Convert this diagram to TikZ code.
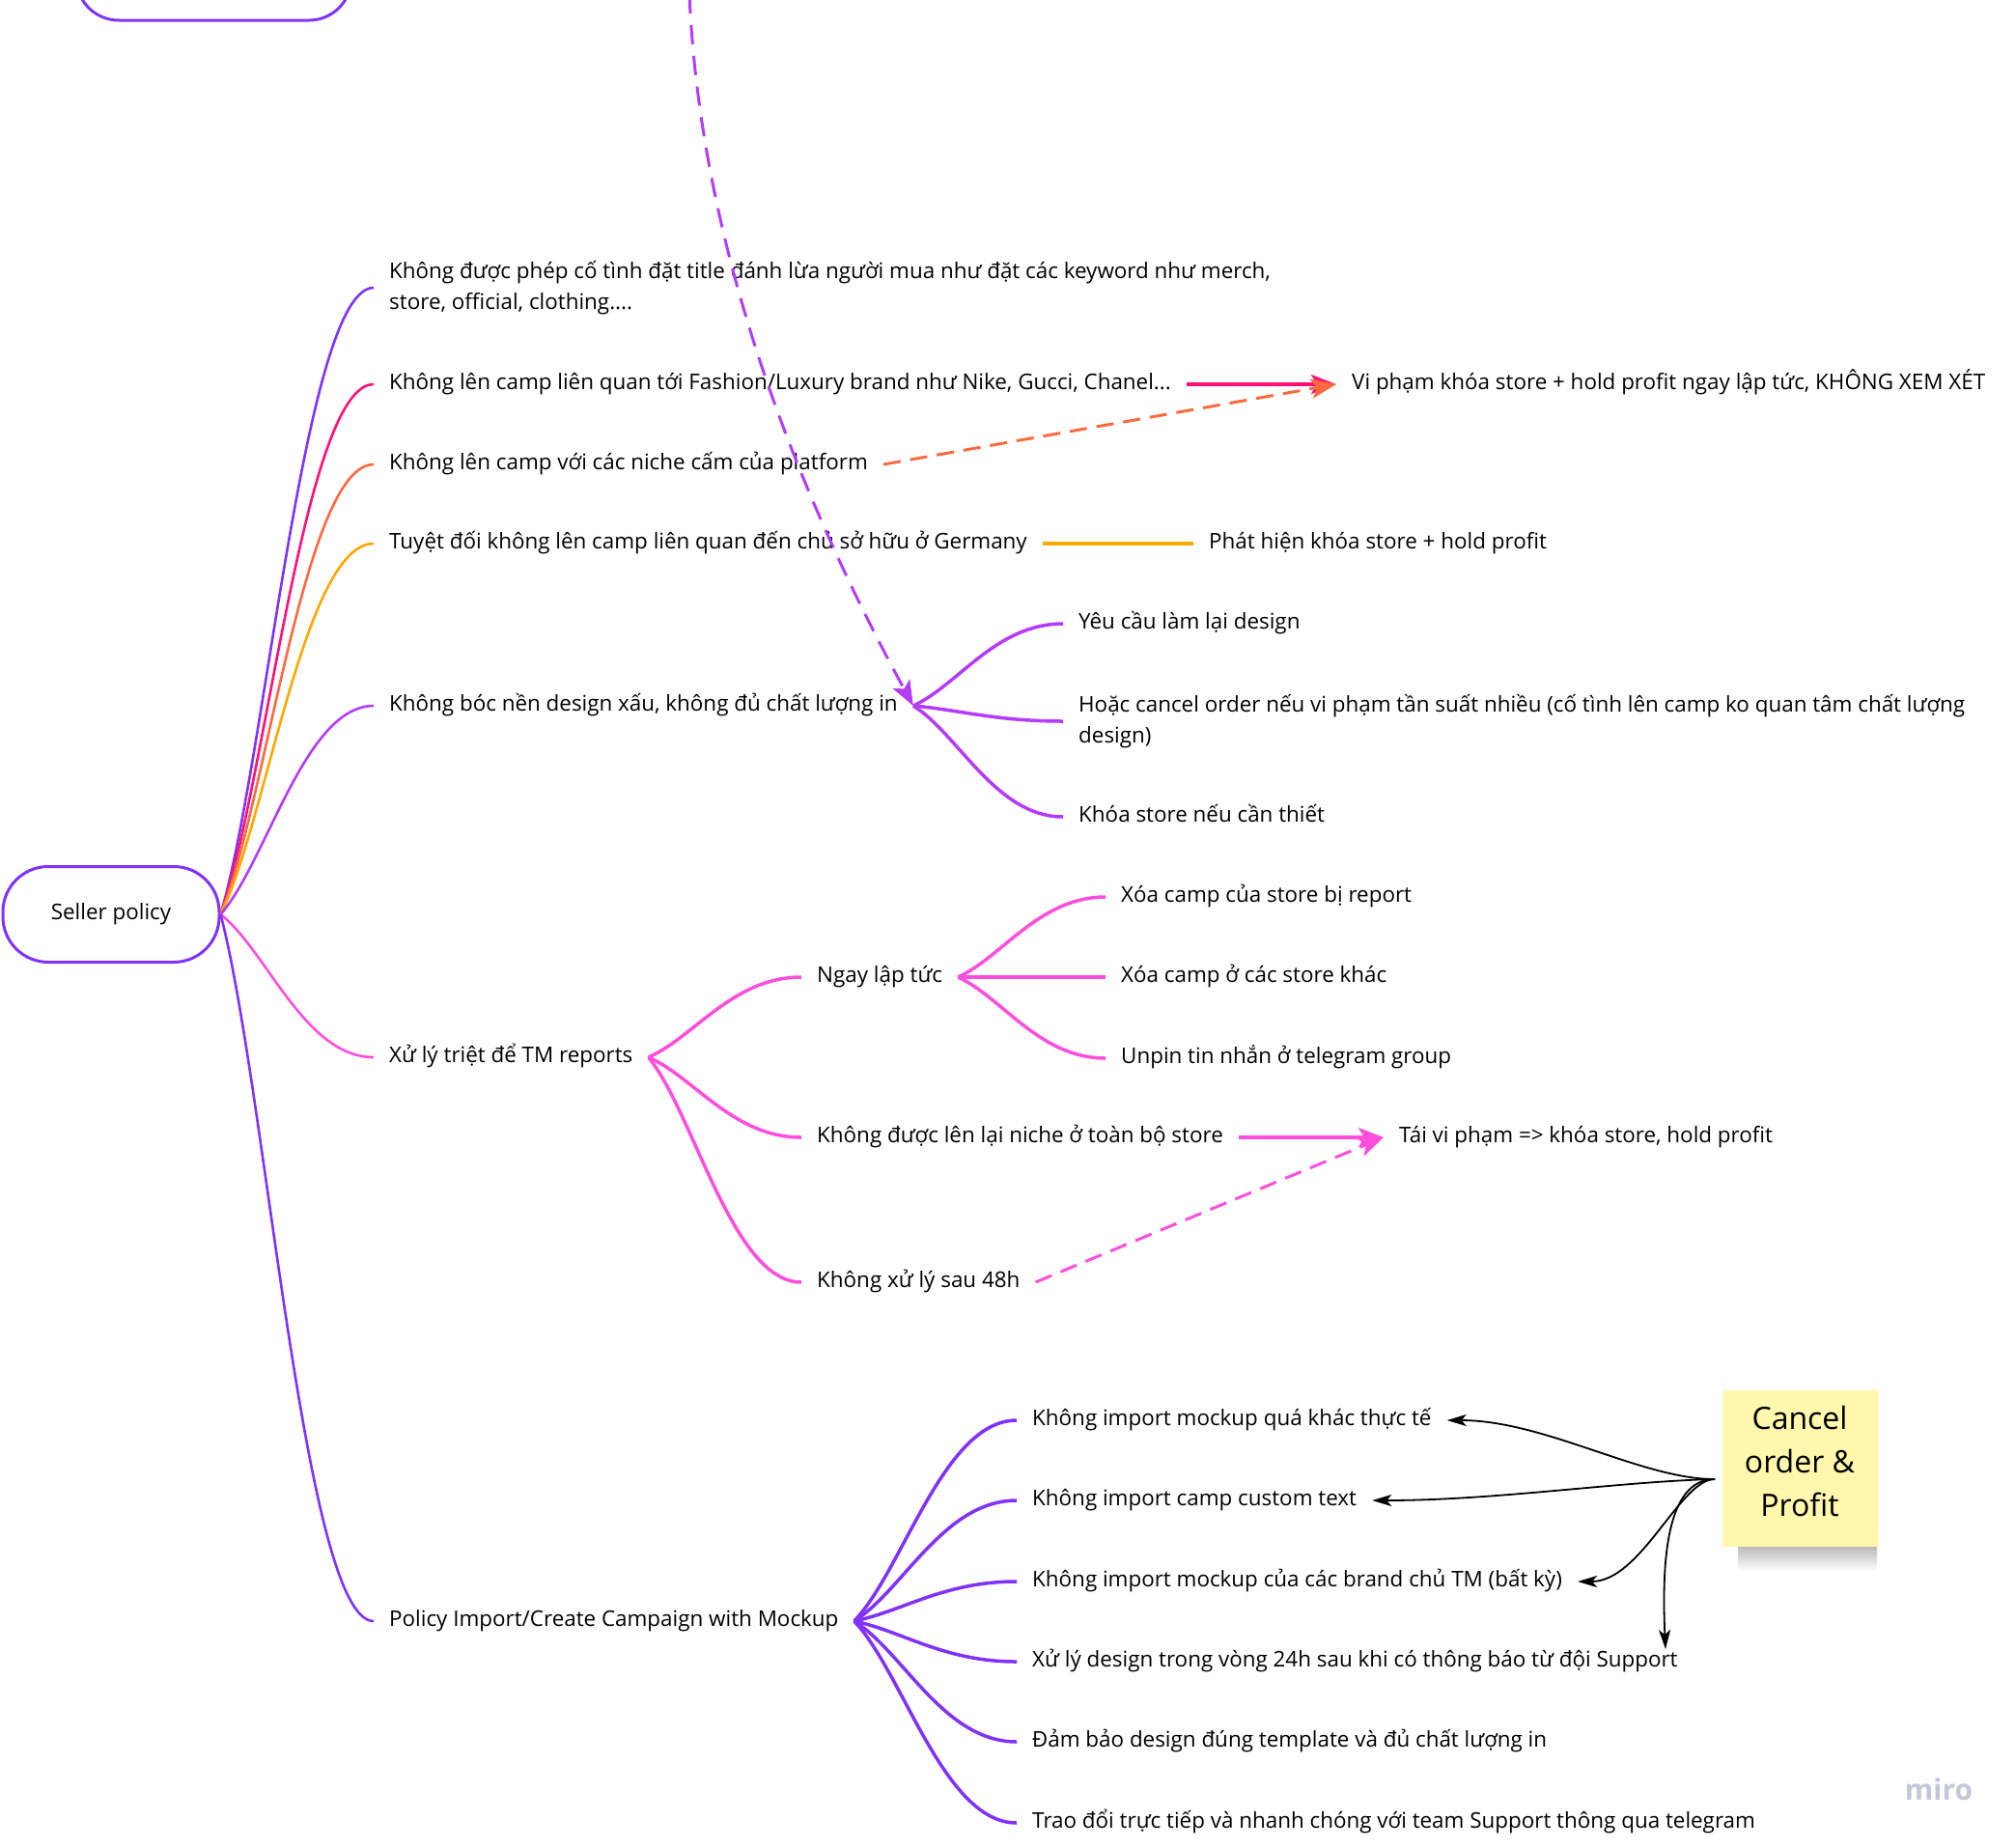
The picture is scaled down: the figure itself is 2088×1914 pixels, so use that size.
\documentclass[tikz,border=0pt]{standalone}
\usepackage{fontspec}
\setmainfont{Open Sans}
\usetikzlibrary{arrows.meta,calc}
\definecolor{cviolet}{RGB}{128,50,248}
\definecolor{ccrimson}{RGB}{255,16,120}
\definecolor{corange}{RGB}{255,105,64}
\definecolor{camber}{RGB}{255,168,0}
\definecolor{cpurple}{RGB}{180,60,248}
\definecolor{cmagenta}{RGB}{255,77,222}
\definecolor{csticky}{RGB}{255,247,172}
\definecolor{cmiro}{RGB}{198,198,214}
\tikzset{
  txt/.style={anchor=west, inner xsep=16pt, inner ysep=0pt, font=\fontsize{22.4pt}{32pt}\selectfont, text height=16pt, text depth=5.5pt},
  txtm/.style={anchor=west, inner xsep=16pt, inner ysep=0pt, font=\fontsize{22.4pt}{32pt}\selectfont, align=left},
  mm/.style={to path={let \p1=(\tikztostart), \p2=(\tikztotarget) in .. controls ({\x1+0.3*(\x2-\x1)},{\y1+0.25*(\y2-\y1)}) and ({\x2-0.45*(\x2-\x1)},\y2) .. (\tikztotarget)}},
  lvone/.style={line width=2.6pt, mm},
  lvtwo/.style={line width=3.5pt, mm},
  ctip/.style={-{Stealth[length=26pt,width=20pt,inset=6pt]}},
  dashy/.style={dash pattern=on 18pt off 10pt},
  blk/.style={draw=black, line width=1.8pt, -{Stealth[length=20pt,width=12pt,inset=5pt]}},
}
\begin{document}
\begin{tikzpicture}[x=1pt,y=-1pt]
\useasboundingbox (0,0) rectangle (2088,1914);
\clip (0,0) rectangle (2088,1914);

% partial box at the top
\draw[cviolet, line width=3pt, rounded corners=44pt] (79,-70) rectangle (364,21);

% root
\node[draw=cviolet, line width=3pt, rounded corners=47pt, minimum width=224pt, minimum height=99pt, inner sep=0pt, font=\fontsize{22.4pt}{32pt}\selectfont] (root) at (115,947) {Seller policy};

% level 1
\node[txtm] (k1) at (387,298) {Không được phép cố tình đặt title đánh lừa người mua như đặt các keyword như merch,\\store, official, clothing....};
\node[txt] (k2) at (387,398) {Không lên camp liên quan tới Fashion/Luxury brand như Nike, Gucci, Chanel...};
\node[txt] (k3) at (387,481) {Không lên camp với các niche cấm của platform};
\node[txt] (k4) at (387,563) {Tuyệt đối không lên camp liên quan đến chủ sở hữu ở Germany};
\node[txt] (k5) at (387,731) {Không bóc nền design xấu, không đủ chất lượng in};
\node[txt] (k6) at (387,1095) {Xử lý triệt để TM reports};
\node[txt] (k7) at (387,1679) {Policy Import/Create Campaign with Mockup};

% right side results
\node[txt] (vipham) at (1384,398) {Vi phạm khóa store + hold profit ngay lập tức, KHÔNG XEM XÉT};
\node[txt] (phathien) at (1236,563) {Phát hiện khóa store + hold profit};

% k5 children
\node[txt] (k5a) at (1101,646) {Yêu cầu làm lại design};
\node[txtm] (k5b) at (1101,747) {Hoặc cancel order nếu vi phạm tần suất nhiều (cố tình lên camp ko quan tâm chất lượng\\design)};
\node[txt] (k5c) at (1101,846) {Khóa store nếu cần thiết};

% k6 children
\node[txt] (k6a) at (830,1012) {Ngay lập tức};
\node[txt] (k6b) at (830,1178) {Không được lên lại niche ở toàn bộ store};
\node[txt] (k6c) at (830,1328) {Không xử lý sau 48h};
\node[txt] (k6a1) at (1145,929) {Xóa camp của store bị report};
\node[txt] (k6a2) at (1145,1012) {Xóa camp ở các store khác};
\node[txt] (k6a3) at (1145,1096) {Unpin tin nhắn ở telegram group};
\node[txt] (taivipham) at (1433,1178) {Tái vi phạm => khóa store, hold profit};

% k7 children
\node[txt] (k7a) at (1053,1471) {Không import mockup quá khác thực tế};
\node[txt] (k7b) at (1053,1554) {Không import camp custom text};
\node[txt] (k7c) at (1053,1638) {Không import mockup của các brand chủ TM (bất kỳ)};
\node[txt] (k7d) at (1053,1721) {Xử lý design trong vòng 24h sau khi có thông báo từ đội Support};
\node[txt] (k7e) at (1053,1804) {Đảm bảo design đúng template và đủ chất lượng in};
\node[txt] (k7f) at (1053,1888) {Trao đổi trực tiếp và nhanh chóng với team Support thông qua telegram};

% sticky note with soft shadow
\shade[top color=black!28, bottom color=white] (1800,1601) rectangle (1944,1627);
\node[fill=csticky, minimum width=161pt, minimum height=162pt, inner sep=0pt, font=\fontsize{32pt}{45pt}\selectfont] (sticky) at (1864,1521) {\raisebox{5pt}[\height][\depth]{\begin{tabular}{@{}c@{}}Cancel\\order \&\\Profit\end{tabular}}};

% watermark
\node[text=cmiro, font=\fontsize{30pt}{36pt}\selectfont\bfseries, inner sep=0pt] (miro) at (2008,1853) {miro};

% coordinates for free ends
\coordinate (topsrc) at (714,-6);
\coordinate (cs) at (1776,1532);
\coordinate (supptip) at (1725,1708);

% level-1 connectors
\draw[lvone, cviolet] (root.east) to (k1.west);
\draw[lvone, ccrimson] (root.east) to (k2.west);
\draw[lvone, corange] (root.east) to (k3.west);
\draw[lvone, camber] (root.east) to (k4.west);
\draw[lvone, cpurple] (root.east) to (k5.west);
\draw[lvone, cmagenta] (root.east) to (k6.west);
\draw[lvone, cviolet] (root.east) to (k7.west);

% level-2 connectors
\draw[lvtwo, cpurple] (k5.east) to (k5a.west);
\draw[lvtwo, cpurple] (k5.east) to (k5b.west);
\draw[lvtwo, cpurple] (k5.east) to (k5c.west);
\draw[lvtwo, cmagenta] (k6.east) to (k6a.west);
\draw[lvtwo, cmagenta] (k6.east) to (k6b.west);
\draw[lvtwo, cmagenta] (k6.east) to (k6c.west);
\draw[lvtwo, cmagenta] (k6a.east) to (k6a1.west);
\draw[lvtwo, cmagenta] (k6a.east) to (k6a2.west);
\draw[lvtwo, cmagenta] (k6a.east) to (k6a3.west);
\draw[lvtwo, cviolet] (k7.east) to (k7a.west);
\draw[lvtwo, cviolet] (k7.east) to (k7b.west);
\draw[lvtwo, cviolet] (k7.east) to (k7c.west);
\draw[lvtwo, cviolet] (k7.east) to (k7d.west);
\draw[lvtwo, cviolet] (k7.east) to (k7e.west);
\draw[lvtwo, cviolet] (k7.east) to (k7f.west);

% relation arrows
\draw[ccrimson, line width=3.5pt, ctip] (k2.east) -- (vipham.west);
\draw[corange, line width=3pt, dashy, ctip] (k3.east) -- (vipham.west);
\draw[camber, line width=3.5pt] (k4.east) -- (phathien.west);
\draw[cmagenta, line width=3.5pt, ctip] (k6b.east) -- (taivipham.west);
\draw[cmagenta, line width=3pt, dashy, ctip] (k6c.east) -- (taivipham.west);
\draw[cpurple, line width=3pt, dash pattern=on 20pt off 12pt, ctip] (topsrc) .. controls (725,250) and (820,500) .. (k5.east);

% sticky arrows
\draw[blk] (cs) .. controls (1700,1532) and (1600,1471) .. (k7a.east);
\draw[blk] (cs) .. controls (1680,1534) and (1550,1554) .. (k7b.east);
\draw[blk] (cs) .. controls (1740,1532) and (1700,1638) .. (k7c.east);
\draw[blk] (cs) .. controls (1725,1532) and (1721,1620) .. (supptip);
\end{tikzpicture}
\end{document}
